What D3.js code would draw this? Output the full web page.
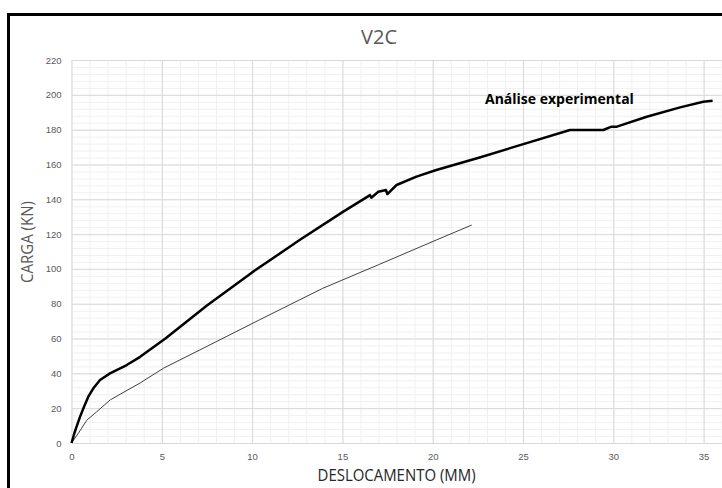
<!DOCTYPE html>
<html>
<head>
<meta charset="utf-8">
<title>V2C</title>
<script src="https://d3js.org/d3.v7.min.js"></script>
<style>
  body { margin: 0; background: #fff; }
  svg { display: block; font-family: "Open Sans", "Liberation Sans", sans-serif; }
  .grid-minor line { stroke: #f0f0f0; stroke-width: 1px; }
  .grid-major line { stroke: #d9d9d9; stroke-width: 1px; }
  .grid-minor path, .grid-major path { display: none; }
  .axis path, .axis line { display: none; }
  .axis text { fill: #595959; font-size: 9.5px; }
</style>
</head>
<body>
<script>
// experimental curve (displacement mm, load kN)
var expDesloc = [0, 0.2, 0.47, 0.7, 0.93, 1.21, 1.58, 2.13, 3.06, 3.8, 5.2, 7.5, 10, 12.65, 15.05, 16.53, 16.6, 16.99, 17.41, 17.49, 18.0, 19.1, 20.2, 22.6, 25.02, 27.6, 29.45, 29.9, 30.2, 31.85, 33.7, 34.98, 35.5];
var expCarga  = [0, 7, 15, 21, 26.6, 31.4, 36.2, 40, 44.8, 49.5, 60, 79, 98, 116.7, 132.9, 142.4, 140.9, 144.3, 145.3, 143, 148.2, 153, 156.8, 164, 171.7, 179.8, 179.8, 181.7, 181.7, 187.4, 192.8, 196, 196.6];

// second (thin) curve
var numDesloc = [0, 0.38, 0.84, 1.4, 2.15, 3.8, 5.1, 7.5, 10.4, 13.9, 17, 20.2, 22.16];
var numCarga  = [0, 5.6, 13, 18, 24.8, 34.5, 43, 55.5, 70.7, 88.8, 102.4, 116.6, 125.2];

var xTicks = [0, 5, 10, 15, 20, 25, 30, 35];
var yTicks = [0, 20, 40, 60, 80, 100, 120, 140, 160, 180, 200, 220];

var W = 722, H = 488;
// plot area runs past the right edge of the cropped picture
var x = d3.scaleLinear().domain([0, 36]).range([71.5, 71.5 + 36 * 18.06]);
var y = d3.scaleLinear().domain([0, 220]).range([443, 60]);

var svg = d3.select("body").append("svg")
    .attr("width", W)
    .attr("height", H);

svg.append("rect").attr("width", W).attr("height", H).attr("fill", "#fff");

var plotH = y(0) - y(220);
var plotW = x(36) - x(0);

// minor gridlines
svg.append("g")
    .attr("class", "grid-minor")
    .attr("transform", "translate(0," + y(0) + ")")
    .call(d3.axisBottom(x).tickValues(d3.range(0, 37, 1)).tickSize(-plotH).tickFormat(""));
svg.append("g")
    .attr("class", "grid-minor")
    .attr("transform", "translate(" + x(0) + ",0)")
    .call(d3.axisLeft(y).tickValues(d3.range(0, 221, 4)).tickSize(-plotW).tickFormat(""));

// major gridlines
svg.append("g")
    .attr("class", "grid-major")
    .attr("transform", "translate(0," + y(0) + ")")
    .call(d3.axisBottom(x).tickValues(xTicks).tickSize(-plotH).tickFormat(""));
svg.append("g")
    .attr("class", "grid-major")
    .attr("transform", "translate(" + x(0) + ",0)")
    .call(d3.axisLeft(y).tickValues(yTicks).tickSize(-plotW).tickFormat(""));

// tick labels
svg.append("g")
    .attr("class", "axis")
    .attr("transform", "translate(0," + (y(0) + 4) + ")")
    .call(d3.axisBottom(x).tickValues(xTicks).tickSize(0).tickPadding(6));
svg.append("g")
    .attr("class", "axis")
    .attr("transform", "translate(" + (x(0) - 4) + ",0)")
    .call(d3.axisLeft(y).tickValues(yTicks).tickSize(0).tickPadding(6));

var line = d3.line()
    .x(function(d) { return x(d[0]); })
    .y(function(d) { return y(d[1]); });

var numData = numDesloc.map(function(d, i) { return [d, numCarga[i]]; });
var expData = expDesloc.map(function(d, i) { return [d, expCarga[i]]; });

svg.append("path")
    .datum(numData)
    .attr("fill", "none")
    .attr("stroke", "#404040")
    .attr("stroke-width", 1)
    .attr("d", line);

svg.append("path")
    .datum(expData)
    .attr("fill", "none")
    .attr("stroke", "#000")
    .attr("stroke-width", 2.5)
    .attr("stroke-linejoin", "round")
    .attr("d", line);

// title
svg.append("text")
    .attr("x", 379)
    .attr("y", 44)
    .attr("text-anchor", "middle")
    .attr("fill", "#595959")
    .style("font-size", "20px")
    .text("V2C");

// axis titles (narrow like the original font)
svg.append("text")
    .attr("x", (x(0) + x(36)) / 2)
    .attr("y", 481)
    .attr("text-anchor", "middle")
    .attr("fill", "#262626")
    .attr("textLength", 158)
    .attr("lengthAdjust", "spacingAndGlyphs")
    .style("font-size", "16px")
    .text("DESLOCAMENTO (MM)");

svg.append("text")
    .attr("transform", "translate(33,242) rotate(-90)")
    .attr("text-anchor", "middle")
    .attr("fill", "#595959")
    .attr("textLength", 82)
    .attr("lengthAdjust", "spacingAndGlyphs")
    .style("font-size", "17px")
    .text("CARGA (KN)");

svg.append("text")
    .attr("x", 485)
    .attr("y", 104)
    .attr("fill", "#000")
    .style("font-size", "14px")
    .style("font-weight", "bold")
    .text("Análise experimental");

// black frame (cropped at right and bottom)
svg.append("rect")
    .attr("x", 8.5)
    .attr("y", 14.5)
    .attr("width", 800)
    .attr("height", 600)
    .attr("fill", "none")
    .attr("stroke", "#000")
    .attr("stroke-width", 3);
</script>
</body>
</html>
